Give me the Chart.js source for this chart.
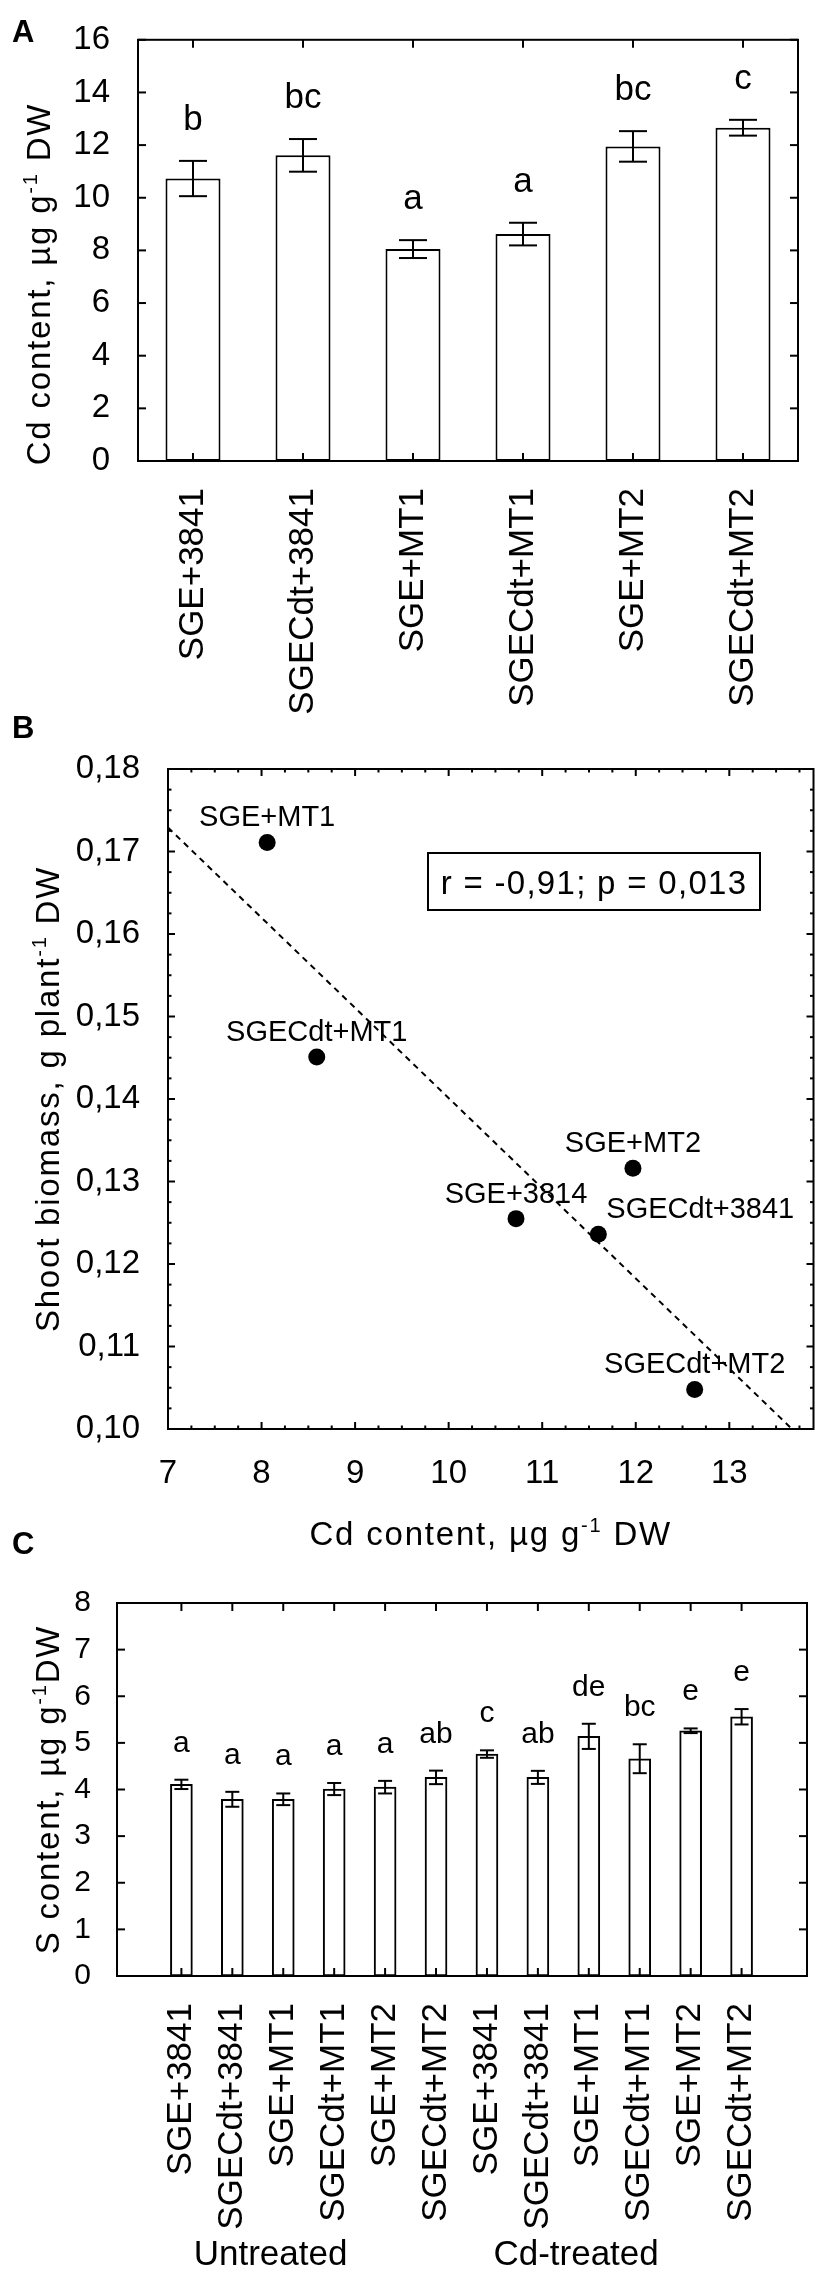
<!DOCTYPE html>
<html>
<head>
<meta charset="UTF-8">
<title>Cd content, shoot biomass and S content</title>
<style>
  body { margin: 0; background: #fff; }
  .wrap { position: relative; width: 822px; height: 2274px; }
  canvas { position: absolute; left: 0; }
</style>
<script src="https://cdn.jsdelivr.net/npm/chart.js@4.4.1/dist/chart.umd.min.js"></script>
</head>
<body>
<div class="wrap">
  <canvas id="chartA" width="822" height="720" style="top:0"></canvas>
  <canvas id="chartB" width="822" height="870" style="top:700px"></canvas>
  <canvas id="chartC" width="822" height="754" style="top:1520px"></canvas>
</div>
<script>
// ---- data ----
// A: Cd content of the Cd-treated plants
const catsA = ['SGE+3841', 'SGECdt+3841', 'SGE+MT1', 'SGECdt+MT1', 'SGE+MT2', 'SGECdt+MT2'];
const cdMean = [10.73, 11.61, 8.05, 8.62, 11.95, 12.66];
const cdErr = [0.67, 0.62, 0.34, 0.43, 0.58, 0.30];
const cdLetters = ['b', 'bc', 'a', 'a', 'bc', 'c'];

// B: shoot biomass against Cd content
const bNames = ['SGE+MT1', 'SGECdt+MT1', 'SGE+3814', 'SGECdt+3841', 'SGE+MT2', 'SGECdt+MT2'];
const bCd = [8.06, 8.59, 10.72, 11.60, 11.97, 12.63];
const bBiomass = [0.1711, 0.1451, 0.1255, 0.1236, 0.1316, 0.1048];
const trendCd = [7, 13.67];
const trendBiomass = [0.1729, 0.100];
const corrText = 'r = -0,91; p = 0,013';

// C: S content, untreated then Cd-treated
const catsC = catsA.concat(catsA);
const sMean = [4.11, 3.79, 3.79, 4.01, 4.05, 4.26, 4.76, 4.26, 5.14, 4.66, 5.26, 5.56];
const sErr = [0.10, 0.16, 0.125, 0.13, 0.135, 0.145, 0.08, 0.14, 0.27, 0.31, 0.05, 0.165];
const sLetters = ['a', 'a', 'a', 'a', 'a', 'ab', 'c', 'ab', 'de', 'bc', 'e', 'e'];
const groupsC = ['Untreated', 'Cd-treated'];

const FAMILY = "'Liberation Sans', Arial, Helvetica, sans-serif";
Chart.defaults.font.family = FAMILY;
Chart.defaults.color = '#000';

// ---- drawing helpers ----
function line(ctx, x1, y1, x2, y2) {
  ctx.beginPath(); ctx.moveTo(x1, y1); ctx.lineTo(x2, y2); ctx.stroke();
}

// title with a superscript part, centred on (x, y)
function richText(ctx, parts, x, y, rot, size) {
  ctx.save();
  ctx.translate(x, y); ctx.rotate(rot);
  ctx.fillStyle = '#000'; ctx.textAlign = 'left'; ctx.textBaseline = 'alphabetic';
  try { ctx.letterSpacing = '1.8px'; } catch (e) {}
  const sup = Math.round(size * 0.6);
  let w = 0;
  parts.forEach(p => {
    ctx.font = (p.sup ? sup : size) + 'px ' + FAMILY;
    p.w = ctx.measureText(p.t).width; w += p.w;
  });
  let cx = -w / 2;
  parts.forEach(p => {
    ctx.font = (p.sup ? sup : size) + 'px ' + FAMILY;
    ctx.fillText(p.t, cx, p.sup ? -size * 0.38 : 0);
    cx += p.w;
  });
  ctx.restore();
}

function panelLetter(ctx, s, y) {
  ctx.save();
  ctx.fillStyle = '#000'; ctx.font = 'bold 31px ' + FAMILY;
  ctx.textAlign = 'left'; ctx.textBaseline = 'alphabetic';
  ctx.fillText(s, 12, y);
  ctx.restore();
}

// box round the plot, ticks pointing inwards on all four sides
function frame(chart, xVals, yVals, len) {
  const ctx = chart.ctx, a = chart.chartArea, sx = chart.scales.x, sy = chart.scales.y;
  ctx.save();
  ctx.strokeStyle = '#000'; ctx.lineWidth = 2;
  ctx.strokeRect(a.left, a.top, a.right - a.left, a.bottom - a.top);
  xVals.forEach(v => {
    const px = sx.getPixelForValue(v.v), l = v.minor ? len / 2 : len;
    line(ctx, px, a.bottom, px, a.bottom - l);
    line(ctx, px, a.top, px, a.top + l);
  });
  yVals.forEach(v => {
    const py = sy.getPixelForValue(v.v), l = v.minor ? len / 2 : len;
    line(ctx, a.left, py, a.left + l, py);
    line(ctx, a.right, py, a.right - l, py);
  });
  ctx.restore();
}

function barExtras(chart, means, errs, lets, capHalf, fontSize, gap) {
  const ctx = chart.ctx, sy = chart.scales.y, bars = chart.getDatasetMeta(0).data;
  ctx.save();
  ctx.strokeStyle = '#000'; ctx.fillStyle = '#000'; ctx.lineWidth = 2;
  ctx.font = fontSize + 'px ' + FAMILY; ctx.textAlign = 'center'; ctx.textBaseline = 'alphabetic';
  means.forEach((m, i) => {
    const x = bars[i].x;
    const yt = sy.getPixelForValue(m + errs[i]), yb = sy.getPixelForValue(m - errs[i]);
    line(ctx, x, yt, x, yb);
    line(ctx, x - capHalf, yt, x + capHalf, yt);
    line(ctx, x - capHalf, yb, x + capHalf, yb);
    ctx.fillText(lets[i], x, yt - gap);
  });
  ctx.restore();
}

const baseOpts = {
  responsive: false,
  animation: false,
  events: [],
  plugins: { legend: { display: false }, tooltip: { enabled: false } }
};

// ---- A ----
new Chart(document.getElementById('chartA'), {
  type: 'bar',
  data: {
    labels: catsA,
    datasets: [{
      data: cdMean, backgroundColor: '#fff', borderColor: '#000', borderWidth: 2,
      borderSkipped: false, barPercentage: 0.5, categoryPercentage: 1
    }]
  },
  options: Object.assign({}, baseOpts, {
    layout: { padding: { top: 34, right: 24, left: 0, bottom: 0 } },
    scales: {
      x: {
        grid: { display: false }, border: { display: false },
        ticks: { font: { size: 35 }, maxRotation: 90, minRotation: 90, padding: 19, autoSkip: false },
        afterFit: s => { s.height = 259; }
      },
      y: {
        min: 0, max: 16,
        grid: { display: false }, border: { display: false },
        ticks: { stepSize: 2, font: { size: 33 }, padding: 20 },
        afterFit: s => { s.width = 138; }
      }
    }
  }),
  plugins: [{
    id: 'panelA',
    afterDraw(chart) {
      const ctx = chart.ctx;
      barExtras(chart, cdMean, cdErr, cdLetters, 14, 35, 31);
      frame(chart, catsA.map((c, i) => ({ v: i })), chart.scales.y.ticks.map(t => ({ v: t.value })), 8);
      richText(ctx, [{ t: 'Cd content, µg g' }, { t: '-1', sup: true }, { t: ' DW' }], 50, 284, -Math.PI / 2, 33);
      panelLetter(ctx, 'A', 42);
    }
  }]
});

// ---- B ----
const bLabelAlign = ['center', 'center', 'center', 'left', 'center', 'center'];
new Chart(document.getElementById('chartB'), {
  type: 'scatter',
  data: {
    datasets: [
      {
        data: bCd.map((x, i) => ({ x: x, y: bBiomass[i] })),
        pointRadius: 8.5, pointBackgroundColor: '#000', pointBorderWidth: 0
      },
      {
        data: trendCd.map((x, i) => ({ x: x, y: trendBiomass[i] })),
        showLine: true, borderColor: '#000', borderWidth: 2, borderDash: [6, 5], pointRadius: 0
      }
    ]
  },
  options: Object.assign({}, baseOpts, {
    layout: { padding: { top: 69, right: 4, left: 0, bottom: 0 } },
    scales: {
      x: {
        type: 'linear', min: 7, max: 13.9,
        grid: { display: false }, border: { display: false },
        ticks: { stepSize: 1, includeBounds: false, font: { size: 33 }, padding: 17, callback: v => String(v) },
        afterFit: s => { s.height = 141; }
      },
      y: {
        min: 0.10, max: 0.18,
        grid: { display: false }, border: { display: false },
        ticks: {
          stepSize: 0.01, includeBounds: false, font: { size: 33 }, padding: 20,
          callback: v => v.toFixed(2).replace('.', ',')
        },
        afterFit: s => { s.width = 168; }
      }
    }
  }),
  plugins: [{
    id: 'panelB',
    afterDraw(chart) {
      const ctx = chart.ctx, a = chart.chartArea;
      const xs = [], ys = [];
      for (let k = 0; k * 0.25 <= 13.9 - 7; k++) xs.push({ v: 7 + k * 0.25, minor: k % 4 !== 0 });
      for (let k = 0; k <= 32; k++) ys.push({ v: 0.10 + k * 0.0025, minor: k % 4 !== 0 });
      frame(chart, xs, ys, 7);

      // point names
      const pts = chart.getDatasetMeta(0).data;
      ctx.save();
      ctx.fillStyle = '#000'; ctx.font = '29px ' + FAMILY; ctx.textBaseline = 'alphabetic';
      bNames.forEach((n, i) => {
        const p = pts[i];
        if (bLabelAlign[i] === 'left') { ctx.textAlign = 'left'; ctx.fillText(n, p.x + 8, p.y - 16); }
        else { ctx.textAlign = 'center'; ctx.fillText(n, p.x, p.y - 16); }
      });
      ctx.restore();

      // correlation box
      ctx.save();
      const bx = a.left + 260, by = a.top + 84, bw = 332, bh = 57;
      ctx.fillStyle = '#fff'; ctx.fillRect(bx, by, bw, bh);
      ctx.strokeStyle = '#000'; ctx.lineWidth = 2; ctx.strokeRect(bx, by, bw, bh);
      ctx.fillStyle = '#000'; ctx.font = '33px ' + FAMILY;
      try { ctx.letterSpacing = '1.3px'; } catch (e) {}
      ctx.textAlign = 'center'; ctx.textBaseline = 'alphabetic';
      ctx.fillText(corrText, bx + bw / 2, by + bh / 2 + 12);
      ctx.restore();

      richText(ctx, [{ t: 'Cd content, µg g' }, { t: '-1', sup: true }, { t: ' DW' }], (a.left + a.right) / 2, 845, 0, 33);
      richText(ctx, [{ t: 'Shoot biomass, g plant' }, { t: '-1', sup: true }, { t: ' DW' }], 59, (a.top + a.bottom) / 2, -Math.PI / 2, 33);
      panelLetter(ctx, 'B', 38);
    }
  }]
});

// ---- C ----
new Chart(document.getElementById('chartC'), {
  type: 'bar',
  data: {
    datasets: [{
      data: sMean.map((v, i) => ({ x: i, y: v })),
      backgroundColor: '#fff', borderColor: '#000', borderWidth: 2,
      borderSkipped: false, barThickness: 22
    }]
  },
  options: Object.assign({}, baseOpts, {
    layout: { padding: { top: 83, right: 15, left: 0, bottom: 0 } },
    scales: {
      x: {
        type: 'linear', min: -0.7, max: catsC.length - 0.28,
        grid: { display: false }, border: { display: false },
        afterBuildTicks: s => { s.ticks = catsC.map((c, i) => ({ value: i })); },
        ticks: {
          font: { size: 35 }, maxRotation: 90, minRotation: 90, padding: 19, autoSkip: false,
          callback: v => catsC[v]
        },
        afterFit: s => { s.height = 298; }
      },
      y: {
        min: 0, max: 8,
        grid: { display: false }, border: { display: false },
        ticks: { stepSize: 1, font: { size: 30 }, padding: 18 },
        afterFit: s => { s.width = 117; }
      }
    }
  }),
  plugins: [{
    id: 'panelC',
    afterDraw(chart) {
      const ctx = chart.ctx, a = chart.chartArea, sx = chart.scales.x;
      barExtras(chart, sMean, sErr, sLetters, 7, 30, 28);
      frame(chart, catsC.map((c, i) => ({ v: i })), chart.scales.y.ticks.map(t => ({ v: t.value })), 8);
      richText(ctx, [{ t: 'S content, µg g' }, { t: '-1', sup: true }, { t: 'DW' }], 59, (a.top + a.bottom) / 2, -Math.PI / 2, 33);

      // treatment groups under the category names
      ctx.save();
      ctx.fillStyle = '#000'; ctx.font = '35px ' + FAMILY;
      ctx.textAlign = 'center'; ctx.textBaseline = 'alphabetic';
      const per = catsC.length / groupsC.length;
      groupsC.forEach((g, k) => {
        const mid = k * per + (per - 1) / 2 - 0.75;
        ctx.fillText(g, sx.getPixelForValue(mid), 745);
      });
      ctx.restore();
      panelLetter(ctx, 'C', 34);
    }
  }]
});
</script>
</body>
</html>
